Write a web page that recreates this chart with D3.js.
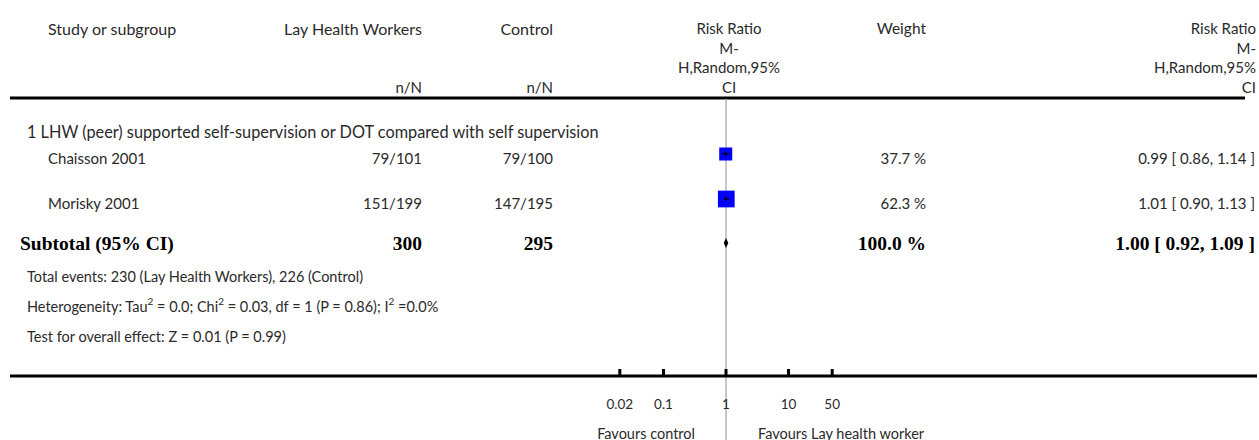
<!DOCTYPE html>
<html><head><meta charset="utf-8">
<script src="https://cdn.jsdelivr.net/npm/d3@7/dist/d3.min.js"></script>
<style>
html,body{margin:0;padding:0;background:#fff;}
svg{display:block;}
text{font-family:Lato,"Open Sans",sans-serif;fill:#2a2a2a;}
.b{font-family:"Liberation Serif","Times New Roman",serif;font-weight:bold;fill:#000;}
</style></head><body>
<script>
// ---- data ----
const headers = ["Study or subgroup","Lay Health Workers","Control","Risk Ratio","Weight","Risk Ratio"];
const rrHeaderLines = ["Risk Ratio","M-","H,Random,95%","CI"];
const subgroupTitle = "1 LHW (peer) supported self-supervision or DOT compared with self supervision";
const studies = ["Chaisson 2001","Morisky 2001"];
const lhwEvents = [79,151];
const lhwTotal = [101,199];
const ctrlEvents = [79,147];
const ctrlTotal = [100,195];
const weights = [37.7,62.3];
const rr = [0.99,1.01];
const rrLo = [0.86,0.90];
const rrHi = [1.14,1.13];
const subtotalLabel = "Subtotal (95% CI)";
const subtotalN = [300,295];
const subtotalWeight = 100.0;
const subtotalRR = [1.00,0.92,1.09];
const totalEventsLine = "Total events: 230 (Lay Health Workers), 226 (Control)";
const overallLine = "Test for overall effect: Z = 0.01 (P = 0.99)";
const tickValues = [0.02,0.1,1,10,50];
const tickLabels = ["0.02","0.1","1","10","50"];
const favLeft = "Favours control", favRight = "Favours Lay health worker";

const W=1259,H=440;
const svg=d3.select("body").append("svg").attr("width",W).attr("height",H);
const x=d3.scaleLog().domain([0.01,100]).range([601,851]);
const size=d3.scaleSqrt().domain([0,100]).range([0,21.2]);
const fmt=d3.format(".2f");

function txt(s,xx,yy,anchor,cls,fs){
  const t=svg.append("text").attr("x",xx).attr("y",yy).attr("text-anchor",anchor||"start")
    .attr("dominant-baseline","central").style("font-size",(fs||15)+"px").text(s);
  if(cls) t.attr("class",cls);
  return t;
}
const cx=x(1);
// header
txt(headers[0],48,28,"start",null,16);
txt(headers[1],422,28,"end",null,16);
txt(headers[2],553,28,"end",null,16);
rrHeaderLines.forEach((s,i)=>txt(s,729,28+i*19.7,"middle"));
txt(headers[4],926,28,"end",null,15.5);
rrHeaderLines.forEach((s,i)=>txt(s,1256,28+i*19.7,"end"));
txt("n/N",422,87,"end");
txt("n/N",553,87,"end");
svg.append("line").attr("x1",10).attr("x2",1245).attr("y1",98).attr("y2",98).attr("stroke","#000").attr("stroke-width",3);

// null line
svg.append("line").attr("x1",cx).attr("x2",cx).attr("y1",99).attr("y2",H).attr("stroke","#b4b4b4").attr("stroke-width",1.5);

txt(subgroupTitle,27,131,"start",null,16.3);
const rowY=[154,199];
studies.forEach((s,i)=>{
  const ty=rowY[i]+4;
  txt(s,48,ty,"start");
  txt(lhwEvents[i]+"/"+lhwTotal[i],422,ty,"end");
  txt(ctrlEvents[i]+"/"+ctrlTotal[i],553,ty,"end");
  txt(weights[i].toFixed(1)+" %",926,ty,"end");
  txt(fmt(rr[i])+" [ "+fmt(rrLo[i])+", "+fmt(rrHi[i])+" ]",1255,ty,"end");
  const sz=size(weights[i]);
  svg.append("rect").attr("x",x(rr[i])-sz/2).attr("y",rowY[i]-sz/2).attr("width",sz).attr("height",sz).attr("fill","#0000ff");
  svg.append("line").attr("x1",x(rrLo[i])).attr("x2",x(rrHi[i])).attr("y1",rowY[i]).attr("y2",rowY[i]).attr("stroke","#000").attr("stroke-width",1.2);
  svg.append("line").attr("x1",x(rr[i])).attr("x2",x(rr[i])).attr("y1",rowY[i]-2.5).attr("y2",rowY[i]+2.5).attr("stroke","#000").attr("stroke-width",1.2);
});
// subtotal
const sy=243;
txt(subtotalLabel,20,sy,"start","b",19.5);
txt(subtotalN[0],422,sy,"end","b",19.5);
txt(subtotalN[1],553,sy,"end","b",19.5);
txt(subtotalWeight.toFixed(1)+" %",926,sy,"end","b",19.5);
txt(fmt(subtotalRR[0])+" [ "+fmt(subtotalRR[1])+", "+fmt(subtotalRR[2])+" ]",1255,sy,"end","b",19.5);
svg.append("path").attr("d",`M${x(subtotalRR[1])},${sy} L${x(subtotalRR[0])},${sy-5} L${x(subtotalRR[2])},${sy} L${x(subtotalRR[0])},${sy+5} Z`).attr("fill","#000");

// footer stats
txt(totalEventsLine,27,276,"start",null,14.5);
const het=svg.append("text").attr("x",27).attr("y",306).attr("dominant-baseline","central").style("font-size","14.5px");
const hetParts=[["Heterogeneity: Tau",0],["2",1],[" = 0.0; Chi",0],["2",1],[" = 0.03, df = 1 (P = 0.86); I",0],["2",1],[" =0.0%",0]];
let prevSup=false;
hetParts.forEach(([s,sup])=>{
  const t=het.append("tspan").text(s);
  if(sup){ t.attr("dy",-5).style("font-size","10px"); }
  else { t.attr("dy",prevSup?5:0); }
  prevSup=!!sup;
});
txt(overallLine,27,336,"start",null,14.5);

// axis
svg.append("line").attr("x1",10).attr("x2",1257).attr("y1",376).attr("y2",376).attr("stroke","#000").attr("stroke-width",3);
tickValues.forEach((v,i)=>{
  svg.append("line").attr("x1",x(v)).attr("x2",x(v)).attr("y1",369).attr("y2",376).attr("stroke","#000").attr("stroke-width",3);
  txt(tickLabels[i],x(v),404,"middle",null,13.5);
});
txt(favLeft,cx-31,433,"end",null,14.5);
txt(favRight,cx+32,433,"start",null,14.5);
</script></body></html>
